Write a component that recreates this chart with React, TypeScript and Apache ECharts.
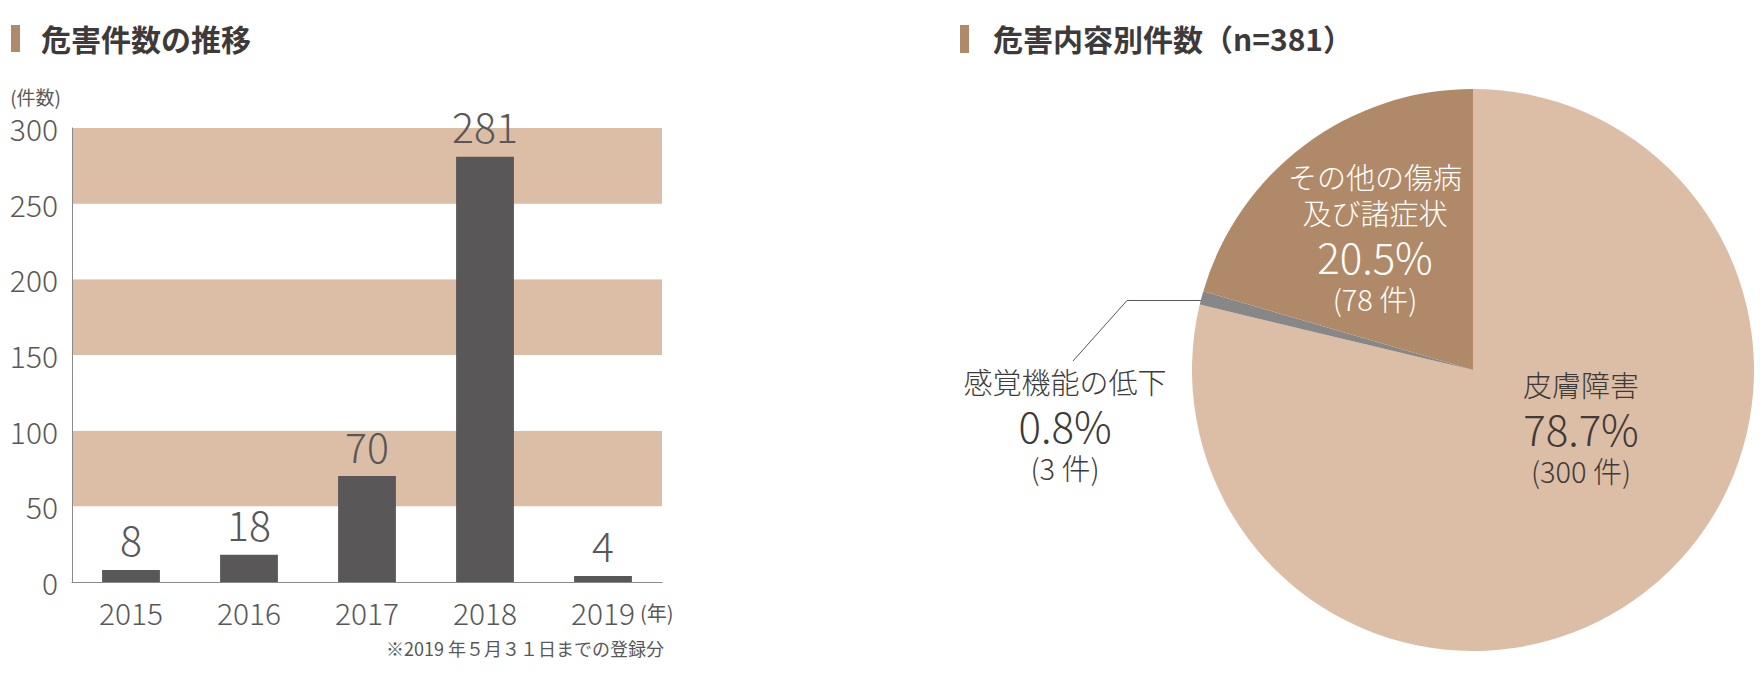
import { useEffect, useRef } from "react";
import * as echarts from "echarts";

// bar chart: hazard reports per year
const years = ["2015", "2016", "2017", "2018", "2019"];
const yearCounts = [8, 18, 70, 281, 4];
const yMax = 300;
const yStep = 50;

// pie chart: hazard type breakdown (n=381)
const hazardNames = ["皮膚障害", "感覚機能の低下", "その他の傷病\n及び諸症状"];
const hazardCounts = [300, 3, 78];

const TAN = "#dcbda5";
const BROWN = "#b08a68";
const GREY = "#878787";
const BAR = "#595757";
const INK = "#3e3a39";
const FONT = "'Noto Sans CJK JP', 'Noto Sans', sans-serif";

const PIE_CX = 1473;
const PIE_CY = 370;
const PIE_R = 281;

export default function App() {
  const ref = useRef<HTMLDivElement>(null);

  useEffect(() => {
    if (!ref.current) return;
    const chart = echarts.init(ref.current, null, { renderer: "svg" });

    const total = hazardCounts.reduce((a, b) => a + b, 0);
    const pieColors = [TAN, GREY, BROWN];
    const labelColors = [INK, INK, "#ffffff"];
    // label block centres per slice
    const labelPos = [
      [1581, 427],
      [1065, 424],
      [1375, 237],
    ];

    // anchor of the small slice's leader line, on its mid angle
    const startDeg = (hazardCounts[0] / total) * 360;
    const midDeg = startDeg + (hazardCounts[1] / total) * 180;
    const rad = (midDeg * Math.PI) / 180;
    const ax = PIE_CX + PIE_R * 0.963 * Math.sin(rad);
    const ay = PIE_CY - PIE_R * 0.963 * Math.cos(rad);

    chart.setOption({
      animation: false,
      backgroundColor: "#ffffff",
      textStyle: { fontFamily: FONT },
      grid: { left: 72, top: 128, width: 590, height: 454 },
      xAxis: {
        type: "category",
        data: years,
        axisLine: { lineStyle: { color: "#8a8a8a", width: 1 } },
        axisTick: { show: false },
        axisLabel: { color: BAR, fontSize: 30, margin: 15, fontFamily: FONT, fontWeight: 300 },
      },
      yAxis: {
        type: "value",
        min: 0,
        max: yMax,
        interval: yStep,
        name: "(件数)",
        nameLocation: "end",
        nameGap: 22,
        nameTextStyle: { color: BAR, fontSize: 19, align: "right", padding: [0, 11, 0, 0], fontFamily: FONT },
        axisLine: { show: true, lineStyle: { color: "#8a8a8a", width: 1 } },
        axisTick: { show: false },
        splitLine: { show: false },
        splitArea: { show: true, areaStyle: { color: ["#ffffff", TAN] } },
        axisLabel: { color: BAR, fontSize: 30, margin: 14, fontFamily: FONT, fontWeight: 300 },
      },
      series: [
        {
          type: "bar",
          data: yearCounts,
          barWidth: "49%",
          itemStyle: { color: BAR },
          label: {
            show: true,
            position: "top",
            distance: 11,
            color: BAR,
            fontSize: 41,
            fontFamily: FONT,
            fontWeight: 300,
          },
        },
        {
          type: "pie",
          center: [PIE_CX, PIE_CY],
          radius: PIE_R,
          startAngle: 90,
          clockwise: true,
          avoidLabelOverlap: false,
          itemStyle: { borderWidth: 0 },
          data: hazardNames.map((name, i) => ({
            name,
            value: hazardCounts[i],
            itemStyle: { color: pieColors[i] },
            label: {
              position: i === 1 ? "outside" : "inside",
              color: labelColors[i],
            },
            labelLine: { show: i === 1, lineStyle: { color: BAR, width: 1 } },
          })),
          label: {
            show: true,
            align: "center",
            fontFamily: FONT,
            formatter: (p: any) => {
              const pct = ((p.value / total) * 100).toFixed(1);
              const lines = String(p.name)
                .split("\n")
                .map((s) => `{n|${s}}`)
                .join("\n");
              return `${lines}\n{p|${pct}%}\n{c|(${p.value} 件)}`;
            },
            rich: {
              n: { fontSize: 29, lineHeight: 36, fontFamily: FONT, fontWeight: 300 },
              p: { fontSize: 42, lineHeight: 50, fontFamily: FONT, fontWeight: 300 },
              c: { fontSize: 29, lineHeight: 36, fontFamily: FONT, fontWeight: 300 },
            },
          },
          labelLayout: (params: any) => {
            const [x, y] = labelPos[params.dataIndex];
            const out: any = { x, y, align: "center", verticalAlign: "middle" };
            if (params.dataIndex === 1) {
              out.labelLinePoints = [
                [ax, ay],
                [1127, ay],
                [1073, 361],
              ];
            }
            return out;
          },
        },
      ],
      graphic: [
        { type: "rect", shape: { x: 11, y: 25, width: 9, height: 27 }, style: { fill: BROWN } },
        {
          type: "text",
          x: 41,
          y: 38,
          style: { text: "危害件数の推移", fill: INK, font: `bold 30px ${FONT}`, textVerticalAlign: "middle" },
        },
        { type: "rect", shape: { x: 960, y: 25, width: 9, height: 28 }, style: { fill: BROWN } },
        {
          type: "text",
          x: 993,
          y: 38,
          style: { text: "危害内容別件数（n=381）", fill: INK, font: `bold 30px ${FONT}`, textVerticalAlign: "middle" },
        },
        {
          type: "text",
          x: 640,
          y: 612,
          style: { text: "(年)", fill: BAR, font: `20px ${FONT}`, textVerticalAlign: "middle" },
        },
        {
          type: "text",
          x: 664,
          y: 648,
          style: {
            text: "※2019 年５月３１日までの登録分",
            fill: BAR,
            font: `18px ${FONT}`,
            textAlign: "right",
            textVerticalAlign: "middle",
          },
        },
        { type: "circle", shape: { cx: ax, cy: ay, r: 3 }, style: { fill: BAR } },
      ],
    });

    return () => chart.dispose();
  }, []);

  return (
    <div
      ref={ref}
      style={{ position: "fixed", left: 0, top: 0, width: 1760, height: 680 }}
    />
  );
}
